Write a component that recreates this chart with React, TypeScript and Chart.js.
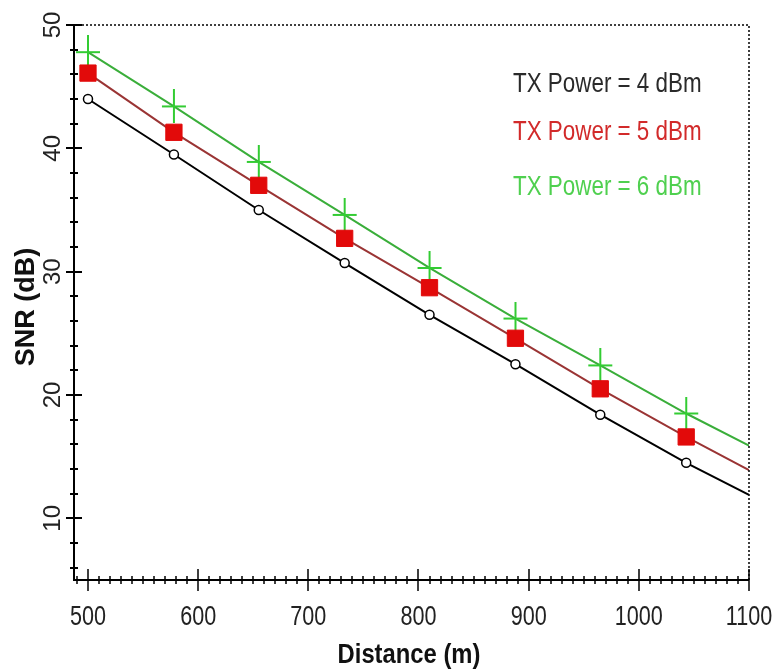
import React, { useEffect, useRef } from 'react';
import { Chart, registerables } from 'chart.js';

Chart.register(...registerables);

// ---- data ----
const distances = [500, 578, 655, 733, 810, 888, 965, 1043, 1100];
const snrTx4 = [44.0, 39.5, 35.0, 30.7, 26.5, 22.5, 18.4, 14.5, 11.9];
const snrTx5 = [46.1, 41.3, 37.0, 32.7, 28.7, 24.6, 20.5, 16.6, 13.9];
const snrTx6 = [47.8, 43.4, 38.9, 34.6, 30.3, 26.2, 22.4, 18.5, 15.9];
const seriesLabels = ['TX Power = 4 dBm', 'TX Power = 5 dBm', 'TX Power = 6 dBm'];
const xTickValues = [500, 600, 700, 800, 900, 1000, 1100];
const yTickValues = [10, 20, 30, 40, 50];
const xTitle = 'Distance (m)';
const yTitle = 'SNR (dB)';

const FONT = '"Liberation Sans", Arial, sans-serif';

function drawText(
  ctx: CanvasRenderingContext2D,
  text: string,
  x: number,
  y: number,
  opts: { font: string; color: string; align: CanvasTextAlign; sx?: number; rotate?: number }
) {
  ctx.save();
  ctx.translate(x, y);
  if (opts.rotate) ctx.rotate(opts.rotate);
  ctx.scale(opts.sx ?? 1, 1);
  ctx.font = opts.font;
  ctx.fillStyle = opts.color;
  ctx.textAlign = opts.align;
  ctx.textBaseline = 'middle';
  ctx.fillText(text, 0, 0);
  ctx.restore();
}

export default function App() {
  const ref = useRef<HTMLCanvasElement | null>(null);

  useEffect(() => {
    document.body.style.margin = '0';
    const canvas = ref.current;
    if (!canvas) return;

    // plus marker
    const plus = document.createElement('canvas');
    plus.width = 26;
    plus.height = 34;
    const pc = plus.getContext('2d')!;
    pc.strokeStyle = '#33cc33';
    pc.lineWidth = 2;
    pc.beginPath();
    pc.moveTo(13, 0);
    pc.lineTo(13, 34);
    pc.moveTo(1, 17);
    pc.lineTo(25, 17);
    pc.stroke();

    const markerRadius = (r: number) => distances.map((_, i) => (i < distances.length - 1 ? r : 0));

    const axesPlugin = {
      id: 'axesPlugin',
      afterDraw(chart: any) {
        const { ctx, chartArea } = chart;
        const { left, right, top, bottom } = chartArea;
        const xs = chart.scales.x;
        const ys = chart.scales.y;
        ctx.save();
        // dotted top/right frame
        ctx.strokeStyle = '#000';
        ctx.lineWidth = 1.5;
        ctx.setLineDash([2, 2]);
        ctx.beginPath();
        ctx.moveTo(left, top);
        ctx.lineTo(right, top);
        ctx.lineTo(right, bottom);
        ctx.stroke();
        ctx.setLineDash([]);
        // solid axes
        ctx.lineWidth = 2;
        ctx.beginPath();
        ctx.moveTo(left, top);
        ctx.lineTo(left, bottom);
        ctx.lineTo(right, bottom);
        ctx.stroke();
        // y ticks
        ctx.beginPath();
        for (let v = 6; v <= 50; v += 2) {
          const py = Math.round(ys.getPixelForValue(v));
          const l = v % 10 === 0 ? 8 : 4;
          ctx.moveTo(left - l, py);
          ctx.lineTo(left + l, py);
        }
        ctx.stroke();
        // x ticks
        ctx.lineWidth = 1.5;
        ctx.beginPath();
        for (let v = 490; v <= 1100; v += 10) {
          const px = Math.round(xs.getPixelForValue(v));
          const l = v % 100 === 0 ? 11 : 4;
          ctx.moveTo(px, bottom - l);
          ctx.lineTo(px, bottom + l);
        }
        ctx.stroke();
        ctx.restore();

        // x tick labels
        for (const v of xTickValues) {
          drawText(ctx, String(v), xs.getPixelForValue(v), 618, {
            font: `27px ${FONT}`, color: '#222', align: 'center', sx: 0.8,
          });
        }
        // y tick labels (rotated)
        for (const v of yTickValues) {
          drawText(ctx, String(v), 53, ys.getPixelForValue(v), {
            font: `24px ${FONT}`, color: '#222', align: 'center', rotate: -Math.PI / 2,
          });
        }
        // axis titles
        drawText(ctx, xTitle, 409, 655, {
          font: `bold 28px ${FONT}`, color: '#111', align: 'center', sx: 0.85,
        });
        drawText(ctx, yTitle, 27, 307, {
          font: `bold 27px ${FONT}`, color: '#111', align: 'center', rotate: -Math.PI / 2,
        });
        // legend text
        const legendColors = ['#2a2a2a', '#d22a2a', '#4fd04f'];
        const legendY = [84, 132, 187];
        seriesLabels.forEach((t, i) => {
          drawText(ctx, t, 513, legendY[i], {
            font: `28px ${FONT}`, color: legendColors[i], align: 'left', sx: 0.8,
          });
        });
      },
    };

    const chart = new Chart(canvas, {
      type: 'line',
      data: {
        labels: distances,
        datasets: [
          {
            label: seriesLabels[0],
            data: distances.map((d, i) => ({ x: d, y: snrTx4[i] })),
            borderColor: '#000000',
            borderWidth: 2,
            pointStyle: 'circle',
            pointRadius: markerRadius(4.5),
            pointBackgroundColor: '#ffffff',
            pointBorderColor: '#000000',
            pointBorderWidth: 1.5,
            tension: 0,
          },
          {
            label: seriesLabels[1],
            data: distances.map((d, i) => ({ x: d, y: snrTx5[i] })),
            borderColor: '#9a3434',
            borderWidth: 2,
            pointStyle: 'rect',
            pointRadius: markerRadius(11.5),
            pointBackgroundColor: '#e20a0a',
            pointBorderColor: '#e20a0a',
            pointBorderWidth: 1,
            tension: 0,
          },
          {
            label: seriesLabels[2],
            data: distances.map((d, i) => ({ x: d, y: snrTx6[i] })),
            borderColor: '#3aae3a',
            borderWidth: 2,
            pointStyle: plus as any,
            pointRadius: markerRadius(12),
            tension: 0,
          },
        ],
      },
      options: {
        responsive: false,
        animation: false,
        events: [],
        layout: { padding: { top: 25, right: 25, left: 0, bottom: 0 } },
        plugins: { legend: { display: false }, tooltip: { enabled: false } },
        scales: {
          x: {
            type: 'linear',
            min: 487.3,
            max: 1100,
            grid: { display: false, drawTicks: false },
            border: { display: false },
            ticks: { display: false },
            afterFit: (s: any) => {
              s.height = 91;
            },
          },
          y: {
            type: 'linear',
            min: 5,
            max: 50,
            grid: { display: false, drawTicks: false },
            border: { display: false },
            ticks: { display: false },
            afterFit: (s: any) => {
              s.width = 74;
            },
          },
        },
      },
      plugins: [axesPlugin],
    } as any);

    return () => chart.destroy();
  }, []);

  return (
    <div style={{ width: 774, height: 671, background: '#fff' }}>
      <canvas ref={ref} width={774} height={671} />
    </div>
  );
}
